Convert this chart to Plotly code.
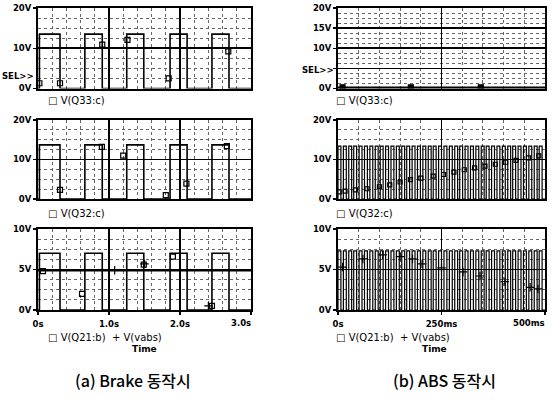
import plotly.graph_objects as go

W, H = 552, 407

# ---------------- data: (a) Brake, time in s ----------------
brake_rise = [0.02, 0.66, 1.25, 1.86, 2.45]
brake_fall = [0.31, 0.905, 1.49, 2.10, 2.69]
brake_q33_high = 13.5
brake_q32_high = 13.7
brake_q21_high = 7.0
brake_q33_mk_t = [0.02, 0.31, 0.905, 1.26, 1.84, 2.68]
brake_q33_mk_v = [1.3, 1.3, 10.9, 12.1, 2.5, 9.2]
brake_q32_mk_t = [0.31, 0.90, 1.20, 1.80, 2.09, 2.66]
brake_q32_mk_v = [2.3, 13.2, 11.0, 1.0, 3.9, 13.4]
brake_q21_mk_t = [0.07, 0.62, 1.49, 1.90, 2.45]
brake_q21_mk_v = [4.8, 2.0, 5.6, 6.6, 0.5]
brake_vabs_t = [0.0, 0.5, 1.0, 1.5, 2.0, 2.5, 3.0]
brake_vabs_v = [4.85, 4.85, 4.85, 4.85, 4.85, 4.85, 4.85]
brake_vabs_mk_t = [1.08, 1.50, 2.40]
brake_vabs_mk_v = [4.9, 5.7, 0.5]
brake_xticks = [0, 1, 2, 3]
brake_xlabels = ["0s", "1.0s", "2.0s", "3.0s"]

# ---------------- data: (b) ABS, time in ms ----------------
abs_rise = [0, 13, 26, 38, 51, 64, 77, 90, 102, 115, 128, 141, 154, 166, 179, 192,
            205, 218, 230, 243, 256, 269, 282, 294, 307, 320, 333, 346, 358, 371,
            384, 397, 410, 422, 435, 448, 461, 474, 486]
abs_fall = [7, 20, 33, 45, 58, 71, 84, 97, 109, 122, 135, 148, 161, 173, 186, 199,
            212, 225, 237, 250, 263, 276, 289, 301, 314, 327, 340, 353, 365, 378,
            391, 404, 417, 429, 442, 455, 468, 481, 493]
abs_q33_t = [0, 500]
abs_q33_v = [0.2, 0.2]
abs_q33_mk_t = [11, 176, 345]
abs_q33_mk_v = [0.3, 0.3, 0.3]
abs_q32_high = 13.4
abs_q32_mk_t = [3, 17, 42, 70, 100, 125, 150, 175, 200, 230, 255, 280, 305, 330,
                355, 380, 405, 430, 460, 485]
abs_q32_mk_v = [1.8, 2.0, 2.3, 2.6, 3.1, 3.6, 4.3, 4.9, 5.3, 5.8, 6.2, 6.8, 7.4,
                7.9, 8.3, 8.8, 9.3, 9.8, 10.4, 10.9]
abs_q21_high = 7.3
abs_vabs_mk_t = [11, 60, 108, 150, 180, 203, 250, 302, 343, 403, 464, 483]
abs_vabs_mk_v = [5.3, 6.3, 6.8, 6.6, 6.3, 5.7, 5.2, 4.7, 4.2, 3.5, 2.8, 2.6]
abs_xticks = [0, 250, 500]
abs_xlabels = ["0s", "250ms", "500ms"]


def pulses(rise, fall, hi, t0, t1):
    xs, ys = [t0], [0]
    for r, f in zip(rise, fall):
        xs += [r, r, f, f]
        ys += [0, hi, hi, 0]
    xs.append(t1)
    ys.append(0)
    return xs, ys


def px(x):
    return x / W


def py(y):
    return 1 - y / H


FONT = "DejaVu Sans"
tickfont = dict(family=FONT, size=8.5, color="black", weight="bold")

fig = go.Figure()

panels = [
    (1, (38, 251), (8, 88.5), [0, 3], [0, 20], [0, 10, 20], ["0V", "10V", "20V"], 0.2, 2.5, brake_xticks, brake_xlabels, False),
    (2, (38, 251), (120, 199), [0, 3], [0, 20], [0, 10, 20], ["0V", "10V", "20V"], 0.2, 2.5, brake_xticks, brake_xlabels, False),
    (3, (38, 251), (229, 310), [0, 3], [0, 10], [0, 5, 10], ["0V", "5V", "10V"], 0.2, 1.25, brake_xticks, brake_xlabels, True),
    (4, (338, 545), (8, 88.5), [0, 500], [0, 20], [0, 5, 10, 15, 20], ["0V", "", "10V", "15V", "20V"], 50, 1.25, abs_xticks, abs_xlabels, False),
    (5, (338, 545), (120, 199), [0, 500], [0, 20], [0, 10, 20], ["0V", "10V", "20V"], 50, 2.5, abs_xticks, abs_xlabels, False),
    (6, (338, 545), (229, 310), [0, 500], [0, 10], [0, 5, 10], ["0V", "5V", "10V"], 50, 1.25, abs_xticks, abs_xlabels, True),
]

ann = []


def text(s, x, y, xanchor="left", size=10, family=FONT, weight="normal", yanchor="middle"):
    ann.append(dict(text=s, x=px(x), y=py(y), xref="paper", yref="paper",
                    xanchor=xanchor, yanchor=yanchor, showarrow=False,
                    font=dict(family=family, size=size, color="black", weight=weight)))


layout_axes = {}
for i, xr, yr, xrng, yrng, yt, yl, xmin, ymin, xt, xl, bottom in panels:
    sfx = "" if i == 1 else str(i)
    # last x label sits right-aligned at the axis end, as in the reference
    shown = list(xl[:-1]) + [""]
    layout_axes["xaxis" + sfx] = dict(
        domain=[px(xr[0]), px(xr[1])], range=xrng, anchor="y" + sfx, automargin=False,
        tickmode="array", tickvals=xt, ticktext=shown, showticklabels=bottom,
        ticks="outside" if bottom else "", ticklen=3, tickcolor="black", tickwidth=1.5,
        tickfont=tickfont, ticklabelstandoff=2,
        showgrid=True, gridcolor="black", gridwidth=1.6,
        minor=dict(tickmode="linear", tick0=0, dtick=xmin, showgrid=True,
                   gridcolor="#666666", griddash="dot", gridwidth=1, ticks=""),
        showline=True, linecolor="black", linewidth=2, mirror=True,
        zeroline=False, fixedrange=True,
    )
    if bottom:
        text(xl[-1], xr[1] + 2, 323, "right", size=8.5, weight="bold")
    layout_axes["yaxis" + sfx] = dict(
        domain=[py(yr[1]), py(yr[0])], range=yrng, anchor="x" + sfx, automargin=False,
        tickmode="array", tickvals=yt, ticktext=yl,
        ticks="outside", ticklen=3, tickcolor="black", tickwidth=1.5,
        tickfont=tickfont, ticklabelstandoff=0,
        showgrid=True, gridcolor="black", gridwidth=1.6,
        minor=dict(tickmode="linear", tick0=0, dtick=ymin, showgrid=True,
                   gridcolor="#666666", griddash="dot", gridwidth=1, ticks=""),
        showline=True, linecolor="black", linewidth=2, mirror=True,
        zeroline=False, fixedrange=True,
    )


def line(x, y, ax, width=1.6):
    fig.add_trace(go.Scatter(x=x, y=y, mode="lines", line=dict(color="black", width=width),
                             xaxis="x" + ax, yaxis="y" + ax, hoverinfo="skip"))


def marks(x, y, ax, symbol="square-open", size=5):
    fig.add_trace(go.Scatter(x=x, y=y, mode="markers",
                             marker=dict(symbol=symbol, size=size, color="black",
                                         line=dict(color="black", width=1.2)),
                             xaxis="x" + ax, yaxis="y" + ax, hoverinfo="skip"))


# (a) Brake
x, y = pulses(brake_rise, brake_fall, brake_q33_high, 0, 3)
line(x, y, "")
marks(brake_q33_mk_t, brake_q33_mk_v, "")
x, y = pulses(brake_rise, brake_fall, brake_q32_high, 0, 3)
line(x, y, "2")
marks(brake_q32_mk_t, brake_q32_mk_v, "2")
x, y = pulses(brake_rise, brake_fall, brake_q21_high, 0, 3)
line(x, y, "3")
marks(brake_q21_mk_t, brake_q21_mk_v, "3")
line(brake_vabs_t, brake_vabs_v, "3", width=1.4)
marks(brake_vabs_mk_t, brake_vabs_mk_v, "3", symbol="cross-thin-open", size=6)

# (b) ABS
line(abs_q33_t, abs_q33_v, "4", width=2.5)
marks(abs_q33_mk_t, abs_q33_mk_v, "4", symbol="square", size=5)
x, y = pulses(abs_rise, abs_fall, abs_q32_high, 0, 500)
line(x, y, "5", width=1.2)
marks(abs_q32_mk_t, abs_q32_mk_v, "5", symbol="square-open", size=4)
x, y = pulses(abs_rise, abs_fall, abs_q21_high, 0, 500)
line(x, y, "6", width=1.2)
marks(abs_vabs_mk_t, abs_vabs_mk_v, "6", symbol="cross-thin-open", size=6)

# ---------------- annotations ----------------
text("SEL>>", 36, 76, "right", size=8.5, weight="bold")
text("SEL>>", 336, 70, "right", size=8.5, weight="bold")
text("□ V(Q33:c)", 46, 100)
text("□ V(Q32:c)", 46, 213)
text("□ V(Q21:b)  + V(vabs)", 46, 337)
text("Time", 144, 349, "center", size=9, weight="bold")
text("□ V(Q33:c)", 334, 100)
text("□ V(Q32:c)", 334, 213)
text("□ V(Q21:b)  + V(vabs)", 334, 337)
text("Time", 434, 349, "center", size=9, weight="bold")
text("(a) Brake 동작시", 133, 380, "center", size=16, family="Noto Sans CJK KR", weight=500)
text("(b) ABS 동작시", 444, 380, "center", size=16, family="Noto Sans CJK KR", weight=500)

fig.update_layout(
    width=W, height=H, autosize=False,
    margin=dict(l=0, r=0, t=0, b=0),
    paper_bgcolor="white", plot_bgcolor="white",
    showlegend=False,
    annotations=ann,
    **layout_axes,
)

fig.write_html("out.html", config={"displayModeBar": False, "staticPlot": True},
               post_script="document.body.style.margin='0px';document.body.style.overflow='hidden';")
